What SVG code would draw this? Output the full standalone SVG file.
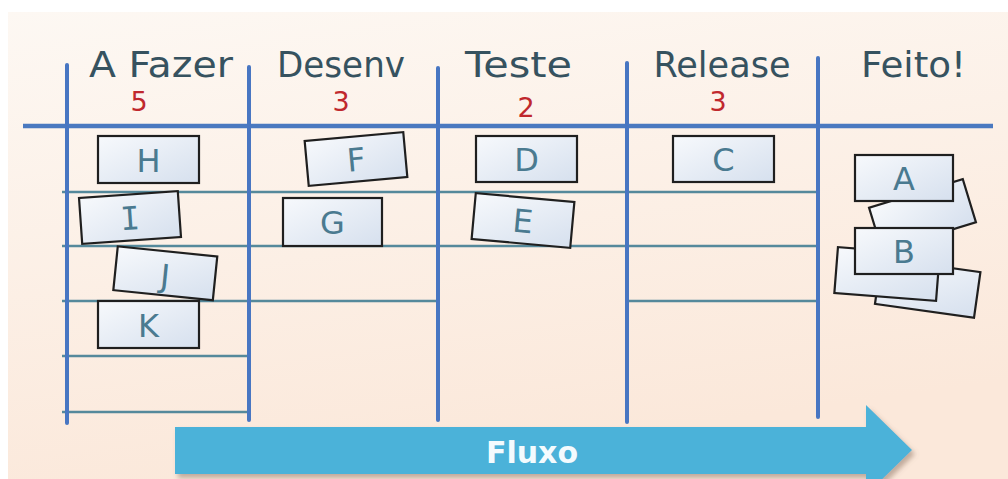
<svg xmlns="http://www.w3.org/2000/svg" width="1008" height="479" viewBox="0 0 1008 479">
  <defs>
    <linearGradient id="board" x1="0" y1="0" x2="0.3" y2="1">
      <stop offset="0" stop-color="#fdf8f3"/>
      <stop offset="1" stop-color="#fbe8da"/>
    </linearGradient>
    <linearGradient id="cardFill" x1="0" y1="0" x2="1" y2="1">
      <stop offset="0" stop-color="#f7f9fc"/>
      <stop offset="1" stop-color="#d6e0ee"/>
    </linearGradient>
    <filter id="arrowShadow" x="-5%" y="-30%" width="110%" height="160%">
      <feGaussianBlur in="SourceAlpha" stdDeviation="2.5"/>
      <feOffset dx="3" dy="4" result="off"/>
      <feFlood flood-color="#7a6050" flood-opacity="0.45"/>
      <feComposite in2="off" operator="in"/>
      <feMerge>
        <feMergeNode/>
        <feMergeNode in="SourceGraphic"/>
      </feMerge>
    </filter>
  </defs>
  <style>
    .col { stroke: #4876c2; stroke-width: 4; stroke-linecap: round; fill: none; }
    .main { stroke: #4a79c0; stroke-width: 4.5; fill: none; }
    .row { stroke: #55899b; stroke-width: 2.6; fill: none; }
    .head { font-family: "DejaVu Sans", "Noto Sans", sans-serif; font-size: 35px; fill: #36525f; text-anchor: middle; }
    .wip { font-family: "DejaVu Sans", "Noto Sans", sans-serif; font-size: 27px; fill: #c0282d; text-anchor: middle; }
    .card rect { fill: url(#cardFill); stroke: #1f1f1f; stroke-width: 2.2; }
    .card text { font-family: "DejaVu Sans", "Noto Sans", sans-serif; font-size: 32px; fill: #4a7a90; text-anchor: middle; }
    .card text.mono { font-family: "DejaVu Sans Mono", "Liberation Mono", monospace; }
    .flow { font-family: "DejaVu Sans", Verdana, sans-serif; font-weight: bold; font-size: 30px; fill: #f4fbfe; text-anchor: middle; }
  </style>

  <!-- page and board background -->
  <rect x="0" y="0" width="1008" height="479" fill="#ffffff"/>
  <rect x="8" y="12" width="1000" height="467" fill="url(#board)"/>

  <!-- board grid -->
  <g id="connectors">
    <line class="main" x1="23" y1="126" x2="993" y2="126"/>
    <line class="row" x1="62" y1="192" x2="818" y2="192"/>
    <line class="row" x1="62" y1="246" x2="818" y2="246"/>
    <line class="row" x1="62" y1="301" x2="438" y2="301"/>
    <line class="row" x1="627" y1="301" x2="818" y2="301"/>
    <line class="row" x1="62" y1="356" x2="249" y2="356"/>
    <line class="row" x1="62" y1="412" x2="249" y2="412"/>
    <line class="col" x1="67" y1="65" x2="67" y2="423"/>
    <line class="col" x1="249" y1="67" x2="249" y2="420"/>
    <line class="col" x1="438" y1="68" x2="438" y2="420"/>
    <line class="col" x1="627" y1="63" x2="627" y2="422"/>
    <line class="col" x1="818" y1="58" x2="818" y2="417"/>
  </g>

  <!-- column headers with WIP limits -->
  <g id="headers">
    <text class="head" x="161" y="77" textLength="144" lengthAdjust="spacingAndGlyphs">A Fazer</text>
    <text class="head" x="341" y="77" textLength="128" lengthAdjust="spacingAndGlyphs">Desenv</text>
    <text class="head" x="518.5" y="77" textLength="107" lengthAdjust="spacingAndGlyphs">Teste</text>
    <text class="head" x="722" y="77" textLength="137" lengthAdjust="spacingAndGlyphs">Release</text>
    <text class="head" x="913.5" y="77" textLength="105" lengthAdjust="spacingAndGlyphs">Feito!</text>
    <text class="wip" x="139" y="111">5</text>
    <text class="wip" x="341" y="111">3</text>
    <text class="wip" x="526" y="117">2</text>
    <text class="wip" x="718" y="111">3</text>
  </g>

  <!-- cards: A Fazer -->
  <g id="card-H" class="card" transform="translate(148.5 159.5)">
    <rect x="-50.5" y="-23.5" width="101" height="47"/>
    <text y="12">H</text>
  </g>
  <g id="card-I" class="card" transform="translate(130 217.5) rotate(-4)">
    <rect x="-49.5" y="-23" width="99" height="46"/>
    <text class="mono" y="12">I</text>
  </g>
  <g id="card-J" class="card" transform="translate(165.3 273.3) rotate(5.8)">
    <rect x="-50" y="-22" width="100" height="44"/>
    <text y="14">J</text>
  </g>
  <g id="card-K" class="card" transform="translate(148.5 324.5)">
    <rect x="-50.5" y="-23.5" width="101" height="47"/>
    <text y="12">K</text>
  </g>

  <!-- cards: Desenv -->
  <g id="card-F" class="card" transform="translate(356 159) rotate(-5.2)">
    <rect x="-49.5" y="-22.5" width="99" height="45"/>
    <text y="12">F</text>
  </g>
  <g id="card-G" class="card" transform="translate(332.5 222)">
    <rect x="-49.5" y="-24" width="99" height="48"/>
    <text y="12">G</text>
  </g>

  <!-- cards: Teste -->
  <g id="card-D" class="card" transform="translate(526.5 159)">
    <rect x="-50.5" y="-23" width="101" height="46"/>
    <text y="12">D</text>
  </g>
  <g id="card-E" class="card" transform="translate(523 220.5) rotate(5.2)">
    <rect x="-49.5" y="-23" width="99" height="46"/>
    <text y="12">E</text>
  </g>

  <!-- cards: Release -->
  <g id="card-C" class="card" transform="translate(723.5 159)">
    <rect x="-50.5" y="-23" width="101" height="46"/>
    <text y="12">C</text>
  </g>

  <!-- cards: Feito! (stacked pile) -->
  <g id="card-pile-1" class="card" transform="translate(922.5 215) rotate(-17)">
    <rect x="-49" y="-22.5" width="98" height="45"/>
  </g>
  <g id="card-A" class="card" transform="translate(904 178)">
    <rect x="-49" y="-23" width="98" height="46"/>
    <text y="12">A</text>
  </g>
  <g id="card-pile-2" class="card" transform="translate(927.7 288) rotate(8)">
    <rect x="-50" y="-23" width="100" height="46"/>
  </g>
  <g id="card-pile-3" class="card" transform="translate(887 274) rotate(4.5)">
    <rect x="-51" y="-23" width="102" height="46"/>
  </g>
  <g id="card-B" class="card" transform="translate(904 251)">
    <rect x="-49" y="-23" width="98" height="46"/>
    <text y="12">B</text>
  </g>

  <!-- flow arrow -->
  <g id="flow-arrow">
    <path d="M175 427 H866 V405 L912 450 L866 495 V474 H175 Z" fill="#4cb2d9" filter="url(#arrowShadow)"/>
    <text class="flow" x="532" y="463">Fluxo</text>
  </g>
</svg>
